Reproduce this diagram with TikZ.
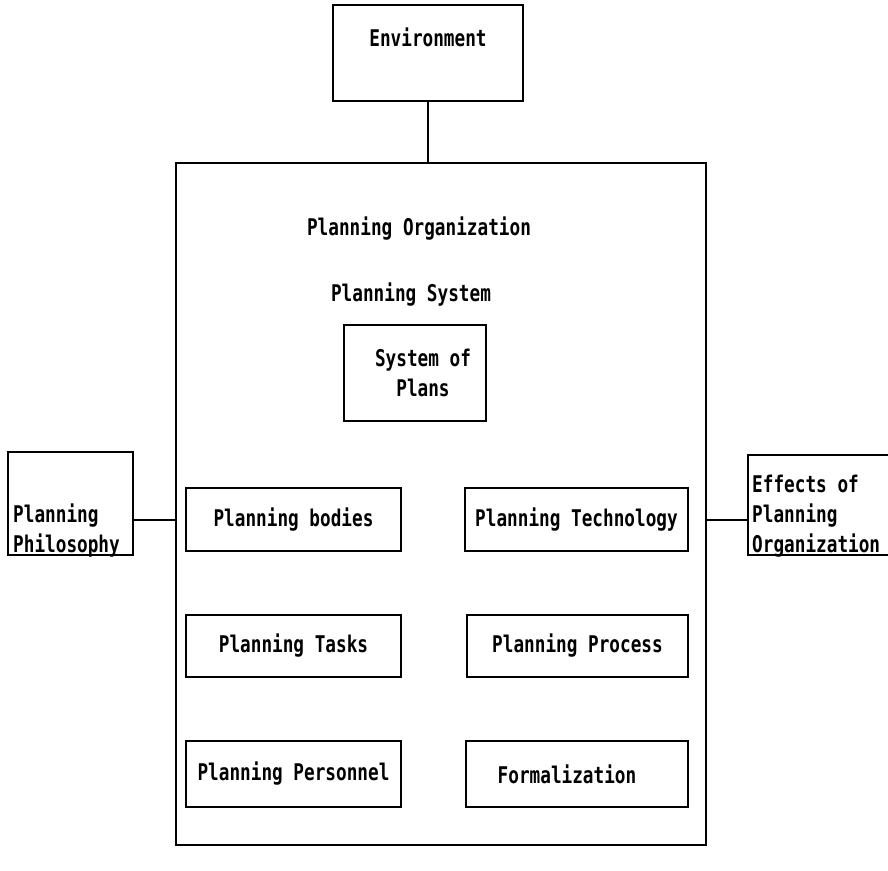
\documentclass[tikz,border=0pt]{standalone}
\usepackage{fontspec}
\newfontfamily\dotfont[FakeStretch=0.77]{DejaVu Sans Mono Bold}
\begin{document}
\begin{tikzpicture}[x=1pt,y=-1pt,
  every node/.style={font=\dotfont\fontsize{23}{30}\selectfont},
  box/.style={draw, line width=1.8pt, inner sep=0pt},
  wire/.style={line width=2pt},
  txt/.style={inner sep=0pt}]
\useasboundingbox (0,0) rectangle (888,870);

% outer frame of the planning organization
\node[box, minimum width=530, minimum height=682] (org) at (441,504) {};
\node[txt] (orgtitle) at (419,229) {Planning Organization};
\node[txt] (systitle) at (411,295) {Planning System};

% environment above
\node[box, minimum width=190, minimum height=96,
      label={[txt]center:{\raisebox{32pt}{Environment}}}] (env) at (428,53) {};

% system of plans
\node[box, minimum width=142, minimum height=96, align=center] (plans) at (415,373)
  {\hspace{16pt}System of\\\hspace{16pt}Plans};

% inner elements
\node[box, minimum width=215, minimum height=63] (bodies) at (293.5,519.5) {Planning bodies};
\node[box, minimum width=223, minimum height=63] (tech) at (576.5,519.5) {Planning Technology};
\node[box, minimum width=215, minimum height=62] (tasks) at (293.5,646) {Planning Tasks};
\node[box, minimum width=221, minimum height=62] (process) at (577.5,646) {Planning Process};
\node[box, minimum width=215, minimum height=66] (personnel) at (293.5,774) {Planning Personnel};
\node[box, minimum width=222, minimum height=66] (formal) at (577,774) {\hspace{-20pt}Formalization};

% side boxes
\node[box, minimum width=125, minimum height=103] (philo) at (70.5,503.5) {};
\node[txt, anchor=south west, align=left] (philotext) at (13,557) {Planning\\Philosophy};
\node[box, minimum width=150, minimum height=100] (effects) at (823,505) {};
\node[txt, anchor=south west, align=left] (effectstext) at (752,557) {Effects of\\Planning\\Organization};

% connectors
\draw[wire] (env.south) -- (env.south |- org.north);
\draw[wire] (philo.east |- bodies.west) -- (org.west |- bodies.west);
\draw[wire] (org.east |- tech.east) -- (effects.west |- tech.east);
\end{tikzpicture}
\end{document}
